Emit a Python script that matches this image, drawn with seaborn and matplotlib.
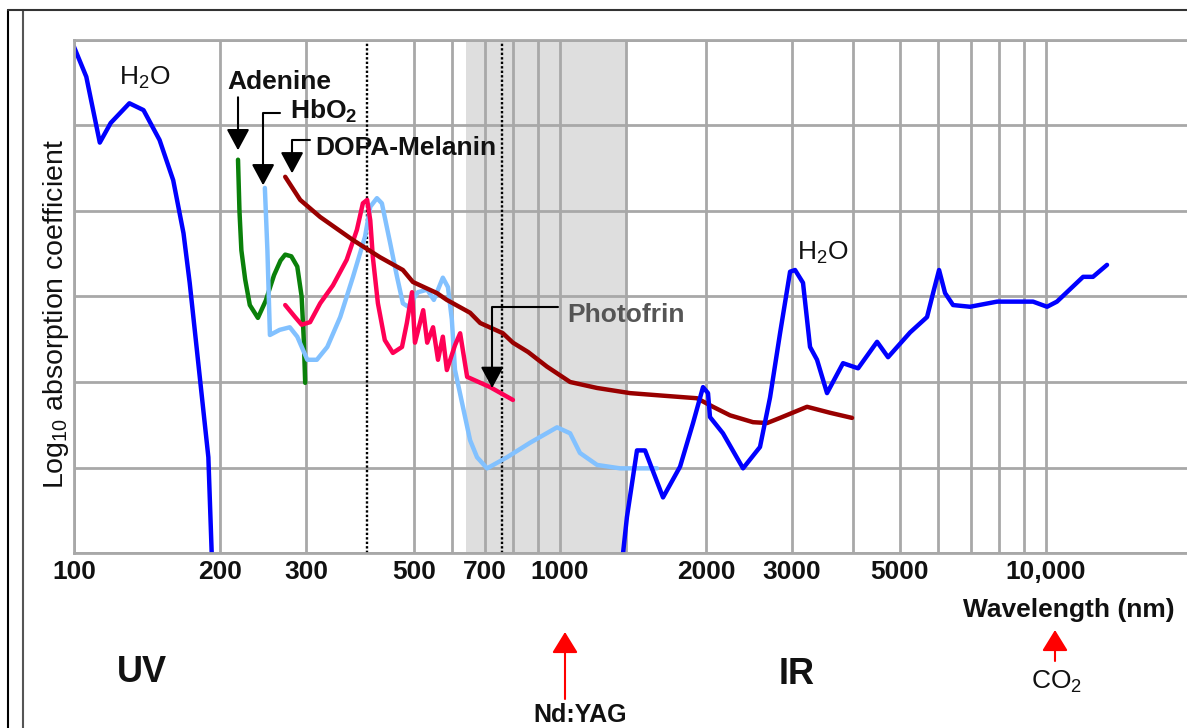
import matplotlib
matplotlib.use("Agg")
import matplotlib.pyplot as plt
import seaborn as sns
from matplotlib.lines import Line2D
from matplotlib.ticker import NullFormatter, FixedLocator

# ---------------- data (wavelength in nm, log10 absorption in grid units) -------------
h2o_uv_wl = [100, 106, 113, 119, 130, 139, 150, 160, 168, 173, 182, 189, 192]
h2o_uv_val = [5.92, 5.57, 4.80, 5.03, 5.26, 5.18, 4.83, 4.36, 3.74, 3.16, 1.99, 1.12, 0.0]

adenine_wl = [217.5, 219, 221, 225, 230, 239, 248, 258, 266, 272, 280, 288, 294, 297, 299]
adenine_val = [4.60, 4.00, 3.54, 3.20, 2.90, 2.75, 2.95, 3.25, 3.42, 3.49, 3.47, 3.35, 3.00, 2.50, 1.99]

hbo2_wl = [247, 250, 253, 265, 278, 288, 302, 316, 332, 353, 375, 397, 407, 420, 430, 447,
           462, 475, 487, 510, 533, 550, 574, 588, 599, 608, 629, 653, 675, 708, 778, 868,
           986, 1049, 1099, 1192, 1329, 1583]
hbo2_val = [4.27, 3.54, 2.55, 2.61, 2.64, 2.53, 2.26, 2.26, 2.41, 2.76, 3.23, 3.70, 4.05, 4.15,
            4.09, 3.63, 3.23, 2.92, 2.88, 3.05, 3.08, 2.96, 3.22, 3.11, 2.73, 2.14, 1.75, 1.32,
            1.12, 0.99, 1.12, 1.29, 1.47, 1.40, 1.17, 1.03, 0.99, 0.99]

photofrin_wl = [272, 285, 294, 306, 321, 341, 364, 382, 393, 401, 407, 412, 422, 436, 453, 473,
                484, 496, 503, 523, 533, 548, 561, 574, 585, 608, 623, 644, 718, 800]
photofrin_val = [2.90, 2.76, 2.67, 2.70, 2.92, 3.13, 3.43, 3.78, 4.09, 4.13, 3.89, 3.46, 2.92,
                 2.49, 2.34, 2.41, 2.69, 3.05, 2.46, 2.84, 2.46, 2.64, 2.26, 2.53, 2.14, 2.43,
                 2.57, 2.06, 1.94, 1.79]

melanin_wl = [272, 292, 321, 375, 426, 475, 498, 558, 585, 653, 685, 763, 800, 860, 940, 1049,
              1192, 1393, 1629, 1913, 2064, 2238, 2495, 2667, 2836, 3223, 3594, 3989]
melanin_val = [4.40, 4.13, 3.93, 3.66, 3.46, 3.31, 3.17, 3.04, 2.96, 2.81, 2.69, 2.57, 2.46,
               2.35, 2.18, 2.00, 1.93, 1.87, 1.84, 1.81, 1.71, 1.61, 1.53, 1.52, 1.58, 1.71,
               1.64, 1.58]

h2o_ir_wl = [1348, 1373, 1440, 1496, 1629, 1766, 1878, 1969, 2016, 2035, 2164, 2380, 2579, 2705,
             2836, 2974, 3045, 3162, 3269, 3379, 3543, 3822, 4105, 4491, 4731, 5252, 5691, 5856,
             6024, 6198, 6437, 6977, 7930, 9403, 10050, 10530, 11920, 12490, 13350]
h2o_ir_val = [0.0, 0.42, 1.20, 1.20, 0.65, 1.01, 1.52, 1.94, 1.87, 1.59, 1.40, 0.99, 1.24, 1.82,
              2.57, 3.29, 3.31, 3.16, 2.41, 2.26, 1.87, 2.22, 2.16, 2.47, 2.29, 2.58, 2.76, 3.04,
              3.31, 3.04, 2.90, 2.88, 2.94, 2.94, 2.88, 2.94, 3.23, 3.23, 3.37]

tick_wl = [100, 200, 300, 500, 700, 1000, 2000, 3000, 5000, 10000]
tick_labels = ["100", "200", "300", "500", "700", "1000", "2000", "3000", "5000", "10,000"]
minor_grid_wl = [600, 800, 900, 1370, 4000, 6000, 7000, 8000, 9000]
y_grid = [0, 1, 2, 3, 4, 5, 6]
visible_band = [400, 760]
window_band = [640, 1370]

# ---------------- style -------------
sns.set_theme(style="white")
plt.rcParams["font.family"] = ["Liberation Sans", "DejaVu Sans"]
plt.rcParams["mathtext.default"] = "regular"

W, H = 1187, 728
fig = plt.figure(figsize=(W / 100, H / 100), dpi=100)
fig.patch.set_facecolor("white")
ax = fig.add_axes([74 / W, 1 - 553 / H, (W - 74) / W, (553 - 40) / H])
ax.set_xscale("log")
ax.set_xlim(100, 19500)
ax.set_ylim(0, 6)

GRID = "#a8a8a8"
ax.set_axisbelow(True)
ax.xaxis.set_major_locator(FixedLocator(tick_wl))
ax.xaxis.set_minor_locator(FixedLocator(minor_grid_wl))
ax.set_xticklabels(tick_labels)
ax.xaxis.set_minor_formatter(NullFormatter())
ax.set_yticks(y_grid)
ax.set_yticklabels([])
ax.grid(True, which="both", axis="x", color=GRID, lw=2.0)
ax.grid(True, which="major", axis="y", color=GRID, lw=2.0)
ax.tick_params(axis="both", which="both", length=0)
ax.tick_params(axis="x", pad=5, labelsize=19)
for lab in ax.get_xticklabels():
    lab.set_fontweight("bold")
    lab.set_color("#111111")
for s in ["left", "top", "bottom"]:
    ax.spines[s].set_color(GRID)
    ax.spines[s].set_linewidth(2.0)
ax.spines["right"].set_visible(False)
ax.set_facecolor("white")

# shaded window and visible boundaries
ax.axvspan(window_band[0], window_band[1], color="#dedede", zorder=0.2, lw=0)
for v in visible_band:
    ax.axvline(v, color="black", lw=1.7, ls=(0, (1.0, 0.9)), zorder=1.5)

# ---------------- curves -------------
LW = 3.2
line_kw = dict(sort=False, estimator=None, solid_joinstyle="round", solid_capstyle="round")
sns.lineplot(x=h2o_uv_wl, y=h2o_uv_val, color="#0000ff", lw=LW, ax=ax, **line_kw)
sns.lineplot(x=adenine_wl, y=adenine_val, color="#0a800a", lw=LW, ax=ax, **line_kw)
sns.lineplot(x=hbo2_wl, y=hbo2_val, color="#82c1ff", lw=LW, ax=ax, **line_kw)
sns.lineplot(x=photofrin_wl, y=photofrin_val, color="#ff0055", lw=LW, ax=ax, **line_kw)
sns.lineplot(x=melanin_wl, y=melanin_val, color="#990000", lw=LW, ax=ax, **line_kw)
sns.lineplot(x=h2o_ir_wl, y=h2o_ir_val, color="#0000ff", lw=LW, ax=ax, **line_kw)
ax.set_xlabel("")
ax.set_ylabel("")

# ---------------- annotations in the plot -------------
FS = 19
ax.text(140, 5.56, "H$_2$O", fontsize=FS, ha="center", va="center", color="#111111")
ax.text(3477, 3.51, "H$_2$O", fontsize=FS, ha="center", va="center", color="#111111")
ax.text(264, 5.51, "Adenine", fontsize=FS, fontweight="bold", ha="center", va="center", color="#111111")
ax.text(278, 5.17, "HbO$_2$", fontsize=FS, fontweight="bold", ha="left", va="center", color="#111111")
ax.text(313, 4.74, "DOPA-Melanin", fontsize=FS, fontweight="bold", ha="left", va="center", color="#111111")
ax.text(1034, 2.78, "Photofrin", fontsize=FS, fontweight="bold", ha="left", va="center", color="#555555")

head = "-|>,head_length=1.3,head_width=0.7"
ax.annotate("", xy=(217.5, 4.71), xytext=(217.5, 5.33),
            arrowprops=dict(arrowstyle=head, color="black", lw=1.5, shrinkA=0, shrinkB=0,
                            mutation_scale=10))
ax.annotate("", xy=(245, 4.30), xytext=(265, 5.15),
            arrowprops=dict(arrowstyle=head, color="black", lw=1.5, shrinkA=0, shrinkB=0,
                            mutation_scale=10, connectionstyle="angle,angleA=0,angleB=90,rad=0"))
ax.annotate("", xy=(281, 4.44), xytext=(306, 4.83),
            arrowprops=dict(arrowstyle=head, color="black", lw=1.5, shrinkA=0, shrinkB=0,
                            mutation_scale=10, connectionstyle="angle,angleA=0,angleB=90,rad=0"))
ax.annotate("", xy=(725, 1.93), xytext=(991, 2.88),
            arrowprops=dict(arrowstyle=head, color="black", lw=1.5, shrinkA=0, shrinkB=0,
                            mutation_scale=10, connectionstyle="angle,angleA=0,angleB=90,rad=0"))

# ---------------- texts below the axes -------------
def fx(px):
    return px / W

def fy(py):
    return 1 - py / H

fig.text(fx(1175), fy(610), "Wavelength (nm)", fontsize=FS, fontweight="bold",
         ha="right", va="center", color="#111111")
fig.text(fx(142), fy(672), "UV", fontsize=26, fontweight="bold", ha="center", va="center", color="#111111")
fig.text(fx(797), fy(675), "IR", fontsize=26, fontweight="bold", ha="center", va="center", color="#111111")
fig.text(fx(580), fy(727), "Nd:YAG", fontsize=18, fontweight="bold", ha="center", va="bottom", color="#111111")
fig.text(fx(1057), fy(682), "CO$_2$", fontsize=FS, ha="center", va="center", color="#111111")
fig.text(fx(56), fy(314), "Log$_{10}$ absorption coefficient", fontsize=20.5, rotation=90,
         ha="center", va="center", color="#111111")

red_head = "-|>,head_length=1.3,head_width=0.8"
ax.annotate("", xy=(565, H - 632), xytext=(565, H - 699), xycoords="figure pixels",
            textcoords="figure pixels", annotation_clip=False,
            arrowprops=dict(arrowstyle=red_head, color="#ff0000", lw=1.5, shrinkA=0, shrinkB=0,
                            mutation_scale=10))
ax.annotate("", xy=(1055, H - 630), xytext=(1055, H - 661), xycoords="figure pixels",
            textcoords="figure pixels", annotation_clip=False,
            arrowprops=dict(arrowstyle=red_head, color="#ff0000", lw=1.5, shrinkA=0, shrinkB=0,
                            mutation_scale=10))

# ---------------- document frame -------------
fig.add_artist(Line2D([fx(8), fx(8)], [0, fy(10)], transform=fig.transFigure, color="black", lw=1.5))
fig.add_artist(Line2D([fx(23), fx(23)], [0, fy(10)], transform=fig.transFigure, color="#555555", lw=1.5))
fig.add_artist(Line2D([fx(8), 1], [fy(10), fy(10)], transform=fig.transFigure, color="#333333", lw=1.5))

fig.savefig("out.png", dpi=100)
